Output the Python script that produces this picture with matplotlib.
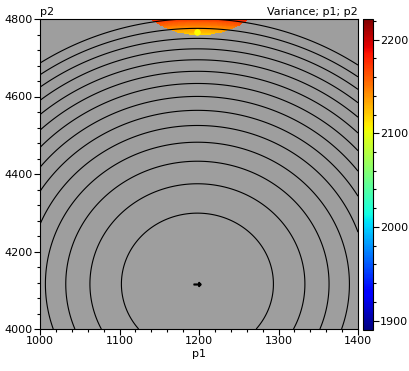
import numpy as np
import matplotlib
matplotlib.use('Agg')
import matplotlib.pyplot as plt
from matplotlib.ticker import MultipleLocator

# ---- values ----
p1_range = [1000, 1400]
p2_range = [4000, 4800]

# fitted quadratic variance surface (centre, half-axes of one contour step)
centre_p1 = 1198
centre_p2 = 4116
step_p1 = 95.6      # p1 distance of first contour from centre
step_p2 = 183.0     # p2 distance of first contour from centre
var_min = 1710      # variance at centre
var_step = 33       # variance between contour lines
contour_levels = [1743, 1776, 1809, 1842, 1875, 1908, 1941, 1974,
                  2007, 2040, 2073, 2106, 2139, 2172]

# coloured (feasible) region at the top: ellipse in data units
region_p1 = 1201
region_p2 = 4975
region_r1 = 105.7
region_r2 = 216.8

# marked points
opt_p1 = [1198]
opt_p2 = [4766]

cbar_min = 1890
cbar_max = 2222
cbar_ticks = [1900, 2000, 2100, 2200]

# ---- surface ----
p1 = np.linspace(p1_range[0], p1_range[1], 401)
p2 = np.linspace(p2_range[0], p2_range[1], 401)
P1, P2 = np.meshgrid(p1, p2)
k = ((P1 - centre_p1) / step_p1) ** 2 + ((P2 - centre_p2) / step_p2) ** 2
var = var_min + var_step * k

inside = ((P1 - region_p1) / region_r1) ** 2 + ((P2 - region_p2) / region_r2) ** 2 < 1
var_shown = np.ma.masked_where(~inside, var)

# ---- figure ----
fig = plt.figure(figsize=(4.09, 3.71), dpi=100)
ax = fig.add_axes([40 / 409, 1 - 329 / 371, 318 / 409, 310 / 371])
cax = fig.add_axes([363 / 409, 1 - 330 / 371, 10 / 409, 311 / 371])

ax.set_facecolor('#9e9e9e')
mesh = ax.pcolormesh(P1, P2, var_shown, cmap='jet', vmin=cbar_min, vmax=cbar_max,
                     shading='auto')
ax.contour(P1, P2, var, levels=contour_levels, colors='black', linewidths=0.8)
ax.scatter(opt_p1, opt_p2, s=22, color='#ffff00', zorder=3, linewidths=0)
ax.plot([centre_p1], [centre_p2], marker=r'$\rightarrow$', color='black',
        markersize=5, zorder=3)

ax.set_xlim(p1_range)
ax.set_ylim(p2_range)
ax.set_xticks([1000, 1100, 1200, 1300, 1400])
ax.set_yticks([4000, 4200, 4400, 4600, 4800])
ax.xaxis.set_minor_locator(MultipleLocator(20))
ax.yaxis.set_minor_locator(MultipleLocator(40))
ax.tick_params(which='both', direction='out', labelsize=8, width=0.8, pad=1)
ax.tick_params(which='major', length=4)
ax.tick_params(which='minor', length=2)
for s in ax.spines.values():
    s.set_linewidth(0.8)

ax.set_xlabel('p1', fontsize=8, labelpad=2)
ax.set_title('p2', loc='left', fontsize=8, pad=3)
ax.set_title('Variance; p1; p2', loc='right', fontsize=8, pad=3)

cb = fig.colorbar(mesh, cax=cax)
cb.set_ticks(cbar_ticks)
cb.ax.yaxis.set_minor_locator(MultipleLocator(20))
cb.ax.tick_params(which='both', direction='out', labelsize=8, width=0.8, pad=1)
cb.ax.tick_params(which='major', length=4)
cb.ax.tick_params(which='minor', length=2)
cb.outline.set_linewidth(0.8)

fig.savefig('out.png', dpi=100)
